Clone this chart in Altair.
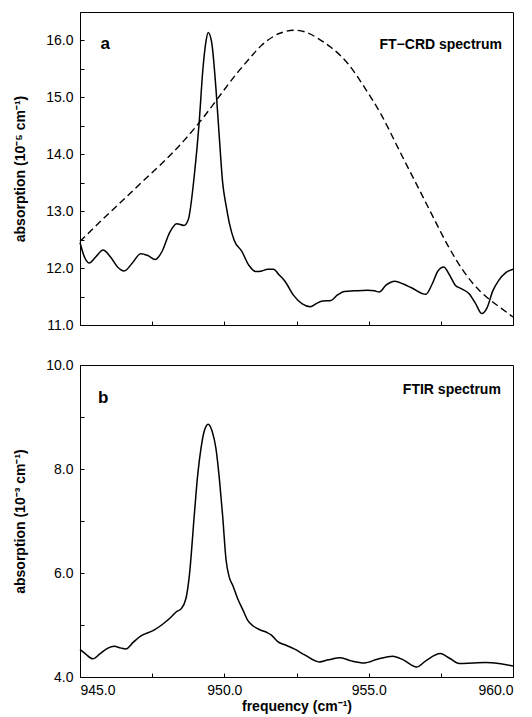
import altair as alt
import pandas as pd

# ---- data ----
crd_f = [945.0, 945.15, 945.32, 945.55, 945.8, 946.05, 946.3, 946.53, 946.8, 947.1,
         947.35, 947.6, 947.85, 948.1, 948.35, 948.6, 948.75, 948.96, 949.13, 949.25,
         949.36, 949.44, 949.56, 949.71, 949.83, 949.94, 950.06, 950.17, 950.34, 950.6,
         950.85, 951.1, 951.3, 951.5, 951.7, 951.9, 952.1, 952.4, 952.7, 952.98,
         953.2, 953.41, 953.69, 953.9, 954.16, 954.5, 954.97, 955.2, 955.37, 955.6,
         955.91, 956.2, 956.5, 956.98, 957.2, 957.4, 957.6, 957.8, 958.0, 958.2,
         958.48, 958.7, 958.92, 959.1, 959.3, 959.5, 959.75, 960.0]
crd_v = [12.45, 12.2, 12.09, 12.2, 12.32, 12.2, 12.02, 11.95, 12.08, 12.25,
         12.22, 12.15, 12.3, 12.62, 12.78, 12.75, 12.85, 13.63, 14.57, 15.45,
         15.97, 16.14, 15.97, 15.15, 14.27, 13.51, 13.1, 12.8, 12.49, 12.3,
         12.05, 11.94, 11.95, 11.98, 11.98, 11.88, 11.77, 11.52, 11.37, 11.32,
         11.38, 11.42, 11.43, 11.52, 11.59, 11.6, 11.61, 11.6, 11.58, 11.7,
         11.77, 11.72, 11.65, 11.54, 11.72, 11.95, 12.02, 11.88, 11.7, 11.64,
         11.55, 11.38, 11.2, 11.3, 11.6, 11.78, 11.92, 11.98]

mirror_f = [945.0, 945.75, 946.5, 947.25, 948.0, 948.6, 949.2, 949.8, 950.4, 950.9,
            951.3, 951.7, 952.0, 952.38, 952.8, 953.2, 953.69, 954.27, 954.85, 955.43,
            956.0, 956.58, 957.16, 957.74, 958.31, 958.89, 959.47, 960.0]
mirror_v = [12.47, 12.84, 13.2, 13.56, 13.92, 14.24, 14.6, 15.0, 15.4, 15.7,
            15.92, 16.07, 16.14, 16.18, 16.15, 16.05, 15.88, 15.6, 15.18, 14.7,
            14.13, 13.55, 12.97, 12.4, 11.93, 11.58, 11.34, 11.14]

ftir_f = [945.0, 945.2, 945.44, 945.7, 945.95, 946.19, 946.4, 946.59, 946.85, 947.11,
          947.56, 947.85, 948.15, 948.35, 948.5, 948.67, 948.79, 948.96, 949.08, 949.19,
          949.3, 949.44, 949.58, 949.71, 949.83, 949.94, 950.06, 950.17, 950.3, 950.46,
          950.65, 950.81, 951.0, 951.27, 951.5, 951.62, 951.85, 952.14, 952.42, 952.8,
          953.29, 953.6, 954.02, 954.4, 954.85, 955.3, 955.83, 956.2, 956.66, 957.0,
          957.48, 957.8, 958.14, 958.6, 959.06, 959.5, 960.0]
ftir_v = [4.53, 4.44, 4.35, 4.45, 4.55, 4.59, 4.56, 4.54, 4.67, 4.79,
          4.90, 5.01, 5.15, 5.26, 5.31, 5.51, 5.96, 7.12, 7.9, 8.39,
          8.72, 8.86, 8.72, 8.39, 7.8, 7.11, 6.25, 5.92, 5.75, 5.51,
          5.28, 5.09, 4.98, 4.90, 4.85, 4.81, 4.68, 4.61, 4.54, 4.42,
          4.29, 4.33, 4.37, 4.31, 4.27, 4.34, 4.40, 4.33, 4.19, 4.32,
          4.45, 4.36, 4.26, 4.27, 4.28, 4.26, 4.21]

x_ticks = [945.0, 947.5, 950.0, 952.5, 955.0, 957.5, 960.0]
x_labels = [945.0, 950.0, 955.0, 960.0]
top_y_ticks = [11.0, 11.5, 12.0, 12.5, 13.0, 13.5, 14.0, 14.5, 15.0, 15.5, 16.0, 16.5]
top_y_labels = [11.0, 12.0, 13.0, 14.0, 15.0, 16.0]
bot_y_ticks = [4.0, 5.0, 6.0, 7.0, 8.0, 9.0, 10.0]
bot_y_labels = [4.0, 6.0, 8.0, 10.0]

ann_top = pd.DataFrame({"f": [945.87, 959.62], "v": [15.94, 15.92],
                        "t": ["a", "FT\u2212CRD spectrum"]})
ann_bot = pd.DataFrame({"f": [945.8, 959.58], "v": [9.37, 9.52],
                        "t": ["b", "FTIR spectrum"]})

W = 433
FONT = "Liberation Sans"

crd = pd.DataFrame({"f": crd_f, "v": crd_v})
mirror = pd.DataFrame({"f": mirror_f, "v": mirror_v})
ftir = pd.DataFrame({"f": ftir_f, "v": ftir_v})

xscale = alt.Scale(domain=[945, 960], nice=False, zero=False)


def panel(lines, ann, ydom, yticks, ylabels, ytitle, height, show_x):
    yscale = alt.Scale(domain=ydom, nice=False, zero=False)
    main_x = alt.Axis(orient="bottom", values=x_labels, format=".1f", ticks=False,
                      domain=False, grid=False, labels=show_x, labelPadding=6,
                      title="frequency (cm\u207b\u00b9)" if show_x else None,
                      titlePadding=2)
    main_y = alt.Axis(orient="left", values=ylabels, format=".1f", ticks=False,
                      domain=False, grid=False, labelPadding=7, title=ytitle,
                      titlePadding=18)
    tick_x = alt.Axis(orient="bottom", values=x_ticks, ticks=True, tickSize=4,
                      offset=-4, labels=False, domain=False, grid=False, title=None,
                      tickColor="black")
    tick_y = alt.Axis(orient="left", values=yticks, ticks=True, tickSize=4,
                      offset=-4, labels=False, domain=False, grid=False, title=None,
                      tickColor="black")

    layers = []
    first = True
    for df, dash in lines:
        if dash:
            mk = alt.Chart(df).mark_line(color="black", strokeWidth=1.4,
                                         interpolate="natural", strokeDash=dash)
        else:
            mk = alt.Chart(df).mark_line(color="black", strokeWidth=1.5,
                                         interpolate="monotone")
        if first:
            enc = mk.encode(x=alt.X("f:Q", scale=xscale, axis=main_x),
                            y=alt.Y("v:Q", scale=yscale, axis=main_y))
            first = False
        else:
            enc = mk.encode(x=alt.X("f:Q", scale=xscale, axis=None),
                            y=alt.Y("v:Q", scale=yscale, axis=None))
        layers.append(enc)

    ticks_layer = alt.Chart(lines[0][0]).mark_line(opacity=0).encode(
        x=alt.X("f:Q", scale=xscale, axis=tick_x),
        y=alt.Y("v:Q", scale=yscale, axis=tick_y))
    layers.append(ticks_layer)

    label_a = alt.Chart(ann.iloc[[0]]).mark_text(
        font=FONT, fontSize=17, fontWeight="bold", align="center",
        baseline="middle", color="black").encode(
        x=alt.X("f:Q", scale=xscale, axis=None),
        y=alt.Y("v:Q", scale=yscale, axis=None), text="t:N")
    label_b = alt.Chart(ann.iloc[[1]]).mark_text(
        font=FONT, fontSize=14, fontWeight="bold", align="right",
        baseline="middle", color="black").encode(
        x=alt.X("f:Q", scale=xscale, axis=None),
        y=alt.Y("v:Q", scale=yscale, axis=None), text="t:N")
    layers += [label_a, label_b]

    return alt.layer(*layers).resolve_axis(x="independent", y="independent").properties(
        width=W, height=height)


top = panel([(crd, None), (mirror, [7, 4])], ann_top, [11.0, 16.5], top_y_ticks,
            top_y_labels, "absorption (10\u207b\u2075 cm\u207b\u00b9)", 313, False)
bot = panel([(ftir, None)], ann_bot, [4.0, 10.0], bot_y_ticks, bot_y_labels,
            "absorption (10\u207b\u00b3 cm\u207b\u00b9)", 312, True)

chart = alt.vconcat(top, bot, spacing=24).properties(
    padding={"left": 5, "top": 3, "right": 5, "bottom": 0}
).configure(font=FONT).configure_view(
    stroke="black", strokeWidth=1
).configure_axis(
    labelFont=FONT, titleFont=FONT, labelFontSize=14, titleFontSize=14,
    titleFontWeight="bold", labelColor="black", titleColor="black"
)

chart.save("out.html", embed_options={"renderer": "svg", "actions": False})
